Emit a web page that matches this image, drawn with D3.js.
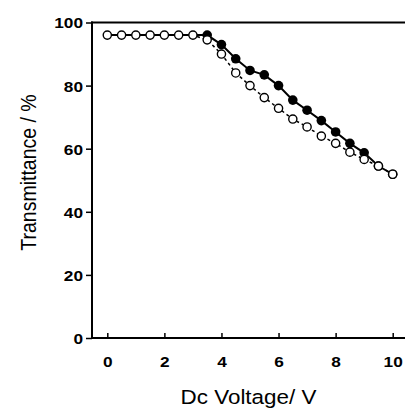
<!DOCTYPE html>
<html>
<head>
<meta charset="utf-8">
<script src="https://cdn.jsdelivr.net/npm/d3@7"></script>
<style>
  html, body { margin: 0; padding: 0; background: #fff; }
  svg { display: block; }
  text { font-family: "Liberation Sans", Arial, Helvetica, sans-serif; fill: #000; }
</style>
</head>
<body>
<svg id="chart" width="405" height="409"></svg>
<script>
// ---- data ----
const voltage = [0, 0.5, 1, 1.5, 2, 2.5, 3, 3.5, 4, 4.5, 5, 5.5, 6, 6.5, 7, 7.5, 8, 8.5, 9, 9.5, 10];
const filledT = [96, 96, 96, 96, 96, 96, 96, 96, 93, 88.5, 84.8, 83.4, 80, 75.4, 72.2, 68.9, 65.3, 61.7, 58.7, 54.5, 51.9];
const openT   = [96, 96, 96, 96, 96, 96, 96, 94.5, 90, 84, 80, 76.2, 72.8, 69.4, 66.9, 64, 61.7, 58.9, 56.6, 54.5, 51.9];
const filledShownFrom = 3.5;
const xTicks = [0, 2, 4, 6, 8, 10];
const yTicks = [0, 20, 40, 60, 80, 100];
const xTitle = "Dc Voltage/ V";
const yTitle = "Transmittance / %";

// ---- layout ----
const svg = d3.select("#chart");
const plotLeft = 92, plotTop = 22.5, plotBottom = 338, plotRightEnd = 405;
const x = d3.scaleLinear().domain([0, 10]).range([107.3, 392.7]);
const y = d3.scaleLinear().domain([0, 100]).range([plotBottom, plotTop]);
const STRETCH = 1.15;

// axes
const yAxis = svg.append("g").attr("transform", `translate(${plotLeft},0)`)
  .call(d3.axisLeft(y).tickValues(yTicks).tickSize(6).tickPadding(3).tickFormat(d3.format("d")));
yAxis.select(".domain").remove();
yAxis.selectAll(".tick line").attr("stroke", "#000").attr("stroke-width", 1.5);
yAxis.selectAll(".tick text")
  .attr("font-size", 15).attr("font-weight", "bold").attr("dy", "0.36em")
  .attr("transform", function() { const tx = +d3.select(this).attr("x"); return `translate(${tx},0) scale(${STRETCH},1) translate(${-tx},0)`; });

const xAxis = svg.append("g").attr("transform", `translate(0,${plotBottom})`)
  .call(d3.axisBottom(x).tickValues(xTicks).tickSize(-5).tickPadding(0).tickFormat(d3.format("d")));
xAxis.select(".domain").remove();
xAxis.selectAll(".tick line").attr("stroke", "#000").attr("stroke-width", 1.5);
xAxis.selectAll(".tick text")
  .attr("font-size", 15).attr("font-weight", "bold").attr("y", 29).attr("dy", 0)
  .attr("transform", `scale(${STRETCH},1)`);

// frame lines: left spine, bottom, top
svg.append("line").attr("x1", plotLeft).attr("x2", plotLeft).attr("y1", plotTop - 1).attr("y2", plotBottom + 1)
  .attr("stroke", "#000").attr("stroke-width", 2);
svg.append("line").attr("x1", plotLeft - 1).attr("x2", plotRightEnd).attr("y1", plotBottom).attr("y2", plotBottom)
  .attr("stroke", "#000").attr("stroke-width", 1.8);
svg.append("line").attr("x1", plotLeft - 1).attr("x2", plotRightEnd).attr("y1", plotTop).attr("y2", plotTop)
  .attr("stroke", "#000").attr("stroke-width", 2);

// titles
svg.append("text").attr("transform", `translate(248.5,404) scale(${STRETCH},1)`)
  .attr("text-anchor", "middle").attr("font-size", 19.5).text(xTitle);
svg.append("text").attr("transform", `translate(36,172.5) scale(${STRETCH},1) rotate(-90)`)
  .attr("text-anchor", "middle").attr("font-size", 19.5).text(yTitle);

// series
const filled = voltage.map((v, i) => ({ v, t: filledT[i] }));
const open = voltage.map((v, i) => ({ v, t: openT[i] }));
const line = d3.line().x(d => x(d.v)).y(d => y(d.t));

svg.append("path").datum(filled).attr("d", line)
  .attr("fill", "none").attr("stroke", "#000").attr("stroke-width", 2);
svg.append("path").datum(open).attr("d", line)
  .attr("fill", "none").attr("stroke", "#000").attr("stroke-width", 1.5).attr("stroke-dasharray", "3,3");

svg.append("g").selectAll("circle").data(filled.filter(d => d.v >= filledShownFrom)).join("circle")
  .attr("cx", d => x(d.v)).attr("cy", d => y(d.t)).attr("r", 4.8).attr("fill", "#000");
svg.append("g").selectAll("circle").data(open).join("circle")
  .attr("cx", d => x(d.v)).attr("cy", d => y(d.t)).attr("r", 4.1)
  .attr("fill", "#fff").attr("stroke", "#000").attr("stroke-width", 1.4);
</script>
</body>
</html>
